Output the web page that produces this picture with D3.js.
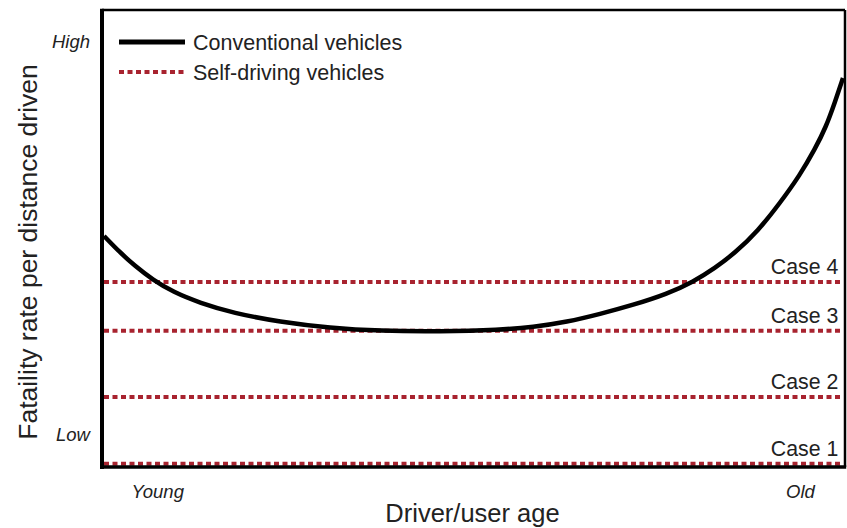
<!DOCTYPE html>
<html>
<head>
<meta charset="utf-8">
<script src="https://cdn.jsdelivr.net/npm/d3@7"></script>
<style>
  body { margin: 0; background: #fff; }
  text { font-family: "Liberation Sans", Arial, sans-serif; fill: #222; }
</style>
</head>
<body>
<script>
// Data (abstract units: age 0-100, rate 0-100)
var curveAge  = [0.27, 2.42, 4.44, 6.86, 9.56, 13.19, 17.63, 23.96, 30.69, 37.42, 45.49, 53.57, 58.01, 62.58, 67.03, 71.47, 76.04, 79.54, 82.50, 85.19, 88.29, 91.25, 93.94, 95.96, 97.44, 98.65, 99.73];
var curveRate = [50.55, 46.94, 43.98, 40.92, 38.29, 35.89, 33.70, 31.73, 30.42, 29.76, 29.65, 29.98, 30.63, 31.73, 33.48, 35.45, 37.86, 40.48, 43.54, 46.83, 51.64, 57.77, 63.89, 69.58, 74.40, 79.87, 85.12];

var caseNames = ["Case 1", "Case 2", "Case 3", "Case 4"];
var caseRates = [0.7, 15.3, 29.8, 40.5];

var yTickLabels = ["Low", "High"];
var yTickValues = [7.2, 93.2];
var xTickLabels = ["Young", "Old"];
var xTickValues = [7.5, 94];

var legendNames = ["Conventional vehicles", "Self-driving vehicles"];

var W = 847, H = 528;
var margin = { top: 10, right: 2, bottom: 61, left: 102 };
var width = W - margin.left - margin.right;
var height = H - margin.top - margin.bottom;

var red = "#a8232f";

var svg = d3.select("body").append("svg")
	.attr("width", W)
	.attr("height", H);

var g = svg.append("g")
	.attr("transform", "translate(" + margin.left + "," + margin.top + ")");

var x = d3.scaleLinear().domain([0, 100]).range([0, width]);
var y = d3.scaleLinear().domain([0, 100]).range([height, 0]);

// self-driving case lines
g.selectAll(".case")
	.data(caseRates)
	.enter()
	.append("line")
		.attr("class", "case")
		.attr("x1", x(0) + 2)
		.attr("x2", x(100) - 2)
		.attr("y1", function(d) { return y(d); })
		.attr("y2", function(d) { return y(d); })
		.attr("stroke", red)
		.attr("stroke-width", 4)
		.attr("stroke-dasharray", "5,3.5");

g.selectAll(".caseLabel")
	.data(caseRates)
	.enter()
	.append("text")
		.attr("class", "caseLabel")
		.attr("x", x(99.1))
		.attr("y", function(d) { return y(d) - 8; })
		.attr("text-anchor", "end")
		.style("font-size", "21.3px")
		.text(function(d, i) { return caseNames[i]; });

// conventional vehicle curve (basis spline keeps it smooth)
var pts = curveAge.map(function(a, i) { return [a, curveRate[i]]; });
var line = d3.line()
	.x(function(d) { return x(d[0]); })
	.y(function(d) { return y(d[1]); })
	.curve(d3.curveBasis);

g.append("path")
	.datum(pts)
	.attr("d", line)
	.attr("fill", "none")
	.attr("stroke", "#000")
	.attr("stroke-width", 4.5);

// frame: thin top/right, thick left/bottom
g.append("line").attr("x1", 0).attr("x2", width).attr("y1", 0).attr("y2", 0)
	.attr("stroke", "#000").attr("stroke-width", 2.5);
g.append("line").attr("x1", width).attr("x2", width).attr("y1", 0).attr("y2", height)
	.attr("stroke", "#000").attr("stroke-width", 2.5);
g.append("line").attr("x1", 0).attr("x2", 0).attr("y1", -1.2).attr("y2", height + 2)
	.attr("stroke", "#000").attr("stroke-width", 4);
g.append("line").attr("x1", -2).attr("x2", width + 1.2).attr("y1", height).attr("y2", height)
	.attr("stroke", "#000").attr("stroke-width", 3.5);

// axis end labels
g.selectAll(".ylab")
	.data(yTickValues)
	.enter()
	.append("text")
		.attr("x", -12)
		.attr("y", function(d) { return y(d); })
		.attr("dy", "0.35em")
		.attr("text-anchor", "end")
		.style("font-size", "18.5px")
		.style("font-style", "italic")
		.text(function(d, i) { return yTickLabels[i]; });

g.selectAll(".xlab")
	.data(xTickValues)
	.enter()
	.append("text")
		.attr("x", function(d) { return x(d); })
		.attr("y", height + 31)
		.attr("text-anchor", "middle")
		.style("font-size", "18.5px")
		.style("font-style", "italic")
		.text(function(d, i) { return xTickLabels[i]; });

// axis titles
svg.append("text")
	.attr("x", margin.left + width / 2 - 1)
	.attr("y", 522)
	.attr("text-anchor", "middle")
	.style("font-size", "25.5px")
	.text("Driver/user age");

svg.append("text")
	.attr("transform", "translate(37," + 252 + ") rotate(-90)")
	.attr("text-anchor", "middle")
	.style("font-size", "26.5px")
	.text("Fataility rate per distance driven");

// legend
var legend = svg.selectAll(".legend")
	.data(legendNames)
	.enter()
	.append("g")
		.attr("class", "legend")
		.attr("transform", function(d, i) { return "translate(119," + (42 + i * 30) + ")"; });

legend.append("line")
	.attr("x1", 0)
	.attr("x2", 66)
	.attr("y1", 0)
	.attr("y2", 0)
	.attr("stroke", function(d, i) { return i === 0 ? "#000" : red; })
	.attr("stroke-width", function(d, i) { return i === 0 ? 5 : 4; })
	.attr("stroke-dasharray", function(d, i) { return i === 0 ? null : "5,3.5"; });

legend.append("text")
	.attr("x", 74)
	.attr("y", 0)
	.attr("dy", "0.35em")
	.style("font-size", "21.5px")
	.text(function(d) { return d; });
</script>
</body>
</html>
